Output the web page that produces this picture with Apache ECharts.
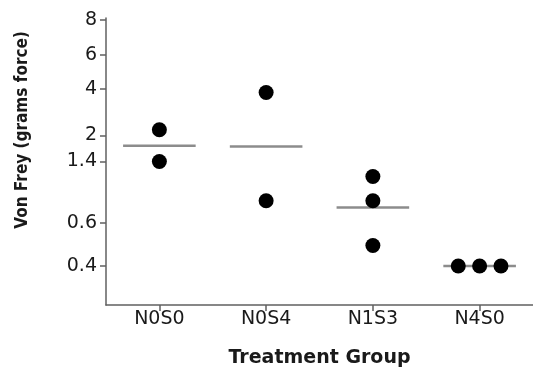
<!DOCTYPE html>
<html>
<head>
<meta charset="utf-8">
<script src="https://cdn.jsdelivr.net/npm/echarts@6/dist/echarts.min.js"></script>
<style>html,body{margin:0;padding:0;background:#fff}#c{width:533px;height:374px}</style>
</head>
<body>
<div id="c"></div>
<script>
// Categories (treatment groups)
const categories = ['N0S0', 'N0S4', 'N1S3', 'N4S0'];
// Y tick labels (grams force) and their von Frey filament evaluator sizes (axis units)
const yTickLabels = ['0.4', '0.6', '1.4', '2', '4', '6', '8'];
const yTickLevels = [3.61, 3.84, 4.17, 4.31, 4.56, 4.74, 4.93];
// Individual thresholds per group (evaluator-size units)
const n0s0 = [4.34, 4.17];
const n0s4 = [4.54, 3.96];
const n1s3 = [4.09, 3.96, 3.72];
const n4s0 = [3.61, 3.61, 3.61];
const groups = [n0s0, n0s4, n1s3, n4s0];

// Build scatter points (tied values are spread side by side) and group means
const points = [];
const means = [];
groups.forEach((vals, gi) => {
  const counts = {};
  vals.forEach(v => { counts[v] = (counts[v] || 0) + 1; });
  const seen = {};
  vals.forEach(v => {
    const m = counts[v];
    const k = seen[v] || 0;
    seen[v] = k + 1;
    points.push([gi + (k - (m - 1) / 2) * 0.2, v]);
  });
  means.push([gi, vals.reduce((a, b) => a + b, 0) / vals.length]);
});

const chart = echarts.init(document.getElementById('c'));
const axisColor = '#606060';
const font = 'DejaVu Sans';
chart.setOption({
  animation: false,
  grid: { left: 106, right: -7, top: 18, bottom: 69 },
  xAxis: {
    type: 'value', min: -0.5, max: 3.5,
    name: 'Treatment Group', nameLocation: 'middle', nameGap: 44,
    nameTextStyle: { fontFamily: font, fontWeight: 'bold', fontSize: 19, color: '#1a1a1a' },
    axisLine: { show: true, onZero: false, lineStyle: { color: axisColor, width: 1.5 } },
    axisTick: { show: true, customValues: [0, 1, 2, 3], length: 6, lineStyle: { color: axisColor, width: 1.5 } },
    axisLabel: {
      customValues: [0, 1, 2, 3], margin: 5,
      formatter: v => categories[Math.round(v)],
      fontFamily: font, fontSize: 19, color: '#1a1a1a'
    },
    splitLine: { show: false }
  },
  yAxis: {
    type: 'value', min: 3.401, max: 4.939,
    axisLine: { show: true, onZero: false, lineStyle: { color: axisColor, width: 1.5 } },
    axisTick: { show: true, customValues: yTickLevels, length: 6, lineStyle: { color: axisColor, width: 1.5 } },
    axisLabel: {
      customValues: yTickLevels, margin: 9,
      formatter: v => {
        let best = 0;
        yTickLevels.forEach((t, i) => { if (Math.abs(t - v) < Math.abs(yTickLevels[best] - v)) best = i; });
        return yTickLabels[best];
      },
      fontFamily: font, fontSize: 19, color: '#1a1a1a'
    },
    splitLine: { show: false }
  },
  graphic: [{
    type: 'text', x: 22, y: 130, rotation: Math.PI / 2, scaleY: 1.18,
    style: {
      text: 'Von Frey (grams force)', fontFamily: font, fontWeight: 'bold', fontSize: 15.3,
      fill: '#1a1a1a', align: 'center', verticalAlign: 'middle'
    }
  }],
  series: [
    {
      type: 'custom', z: 1,
      renderItem: (params, api) => {
        const x = api.value(0), y = api.value(1);
        const p1 = api.coord([x - 0.34, y]);
        const p2 = api.coord([x + 0.34, y]);
        return { type: 'line', shape: { x1: p1[0], y1: p1[1], x2: p2[0], y2: p2[1] },
                 style: { stroke: '#8c8c8c', lineWidth: 2.5 } };
      },
      data: means
    },
    {
      type: 'scatter', z: 2, symbol: 'circle', symbolSize: 15,
      itemStyle: { color: '#000', opacity: 1 },
      data: points
    }
  ]
});
</script>
</body>
</html>
